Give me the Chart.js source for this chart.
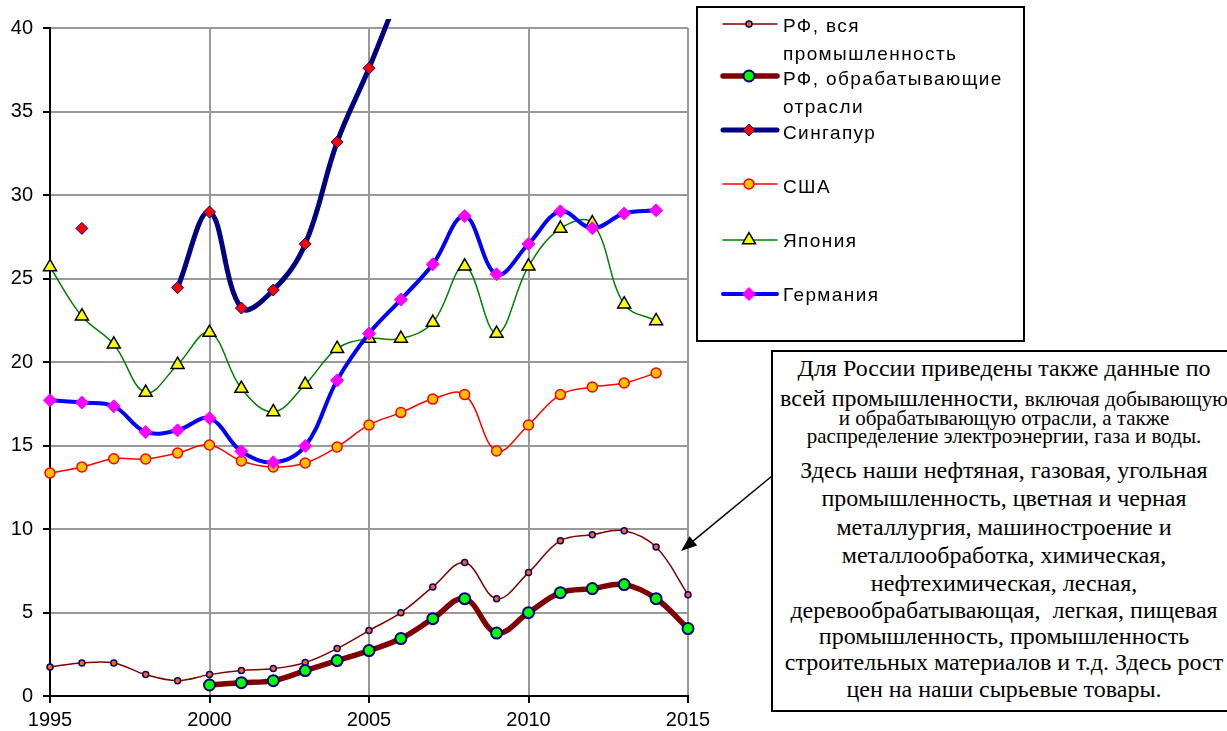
<!DOCTYPE html>
<html lang="ru">
<head>
    <meta charset="UTF-8">
    <title>Доля обрабатывающих отраслей</title>
    <script src="https://cdn.jsdelivr.net/npm/chart.js"></script>
    <style>
        body { margin: 0; background: #fff; }
        #wrap { position: relative; width: 1227px; height: 731px; overflow: hidden; }
        #chart { position: absolute; left: 0; top: 0; }

        .legend-box {
            position: absolute; left: 696px; top: 6px;
            width: 325px; height: 332px;
            border: 2px solid #000;
        }
        .lg {
            position: absolute; left: 783px;
            font: 19px "Liberation Sans", Arial, sans-serif;
            letter-spacing: 1.4px; line-height: 1;
            white-space: nowrap; color: #000;
        }

        .note {
            position: absolute; left: 771px; top: 350px;
            width: 470px; height: 358px;
            border: 2px solid #000; background: #fff;
        }
        .nl {
            position: absolute; left: 771px; width: 466px;
            text-align: center; white-space: nowrap; color: #000;
            font-family: "Liberation Serif", "Times New Roman", serif;
            font-size: 24px; line-height: 1;
        }
        .sm { font-size: 21px; }
    </style>
</head>
<body>
<div id="wrap">
    <canvas id="chart" width="1227" height="731"></canvas>

    <div class="legend-box"></div>
    <div class="lg" style="top:16px">РФ, вся</div>
    <div class="lg" style="top:44px">промышленность</div>
    <div class="lg" style="top:69px">РФ, обрабатывающие</div>
    <div class="lg" style="top:97px">отрасли</div>
    <div class="lg" style="top:123px">Сингапур</div>
    <div class="lg" style="top:177px">США</div>
    <div class="lg" style="top:231px">Япония</div>
    <div class="lg" style="top:285px">Германия</div>

    <div class="note"></div>
    <div class="nl" style="top:356px">Для России приведены также данные по</div>
    <div class="nl" style="top:386px">всей промышленности, <span class="sm">включая добывающую</span></div>
    <div class="nl sm" style="top:408px">и обрабатывающую отрасли, а также</div>
    <div class="nl sm" style="top:426px">распределение электроэнергии, газа и воды.</div>
    <div class="nl" style="top:458px">Здесь наши нефтяная, газовая, угольная</div>
    <div class="nl" style="top:486px">промышленность, цветная и черная</div>
    <div class="nl" style="top:515px">металлургия, машиностроение и</div>
    <div class="nl" style="top:543px">металлообработка, химическая,</div>
    <div class="nl" style="top:571px">нефтехимическая, лесная,</div>
    <div class="nl" style="top:598px">деревообрабатывающая,&nbsp; легкая, пищевая</div>
    <div class="nl" style="top:624px">промышленность, промышленность</div>
    <div class="nl" style="top:650px">строительных материалов и т.д. Здесь рост</div>
    <div class="nl" style="top:677px">цен на наши сырьевые товары.</div>
</div>

<script>
    const years = [1995, 1996, 1997, 1998, 1999, 2000, 2001, 2002, 2003, 2004,
                   2005, 2006, 2007, 2008, 2009, 2010, 2011, 2012, 2013, 2014, 2015];

    const rfAll = [1.74, 1.98, 1.98, 1.28, 0.92, 1.28, 1.52, 1.64, 2.00, 2.84,
                   3.92, 4.99, 6.53, 7.99, 5.83, 7.39, 9.30, 9.66, 9.90, 8.92, 6.07];
    const rfManuf = [null, null, null, null, null, 0.66, 0.80, 0.92, 1.52, 2.12,
                     2.72, 3.44, 4.63, 5.83, 3.77, 4.99, 6.19, 6.43, 6.67, 5.83, 4.04];
    const singapore = [null, 28.0, null, null, 24.45, 28.98, 23.23, 24.31, 27.07, 33.17,
                       37.59, 42.4, null, null, null, null, null, null, null, null, null];
    const usa = [13.35, 13.71, 14.21, 14.19, 14.55, 15.03, 14.07, 13.71, 13.95, 14.91,
                 16.23, 16.97, 17.78, 18.05, 14.67, 16.23, 18.05, 18.50, 18.74, 19.34, null];
    const japan = [25.69, 22.74, 21.06, 18.17, 19.84, 21.76, 18.41, 17.01, 18.65, 20.80,
                   21.40, 21.40, 22.36, 25.73, 21.70, 25.73, 27.99, 28.32, 23.46, 22.46, null];
    const germany = [17.71, 17.57, 17.35, 15.81, 15.91, 16.63, 14.65, 13.99, 14.97, 18.90,
                     21.70, 23.74, 25.85, 28.74, 25.25, 27.07, 29.02, 28.01, 28.89, 29.08, null];

    const xTicks = [1995, 2000, 2005, 2010, 2015];
    const yTicks = [0, 5, 10, 15, 20, 25, 30, 35, 40];

    const toXY = vals => years.map((x, i) => ({ x: x, y: vals[i] }));

    function series(label, vals, o) {
        return Object.assign({
            label: label,
            data: toXY(vals),
            tension: 0.38,
            spanGaps: false,
            clip: { left: 10, top: 9, right: 10, bottom: 10 }
        }, o);
    }

    const datasets = [
        series('РФ, вся промышленность', rfAll, {
            borderColor: '#800000', borderWidth: 1.5,
            pointStyle: 'circle', pointRadius: 3,
            pointBackgroundColor: '#FF6600', pointBorderColor: '#000080', pointBorderWidth: 1.5,
            order: 6
        }),
        series('РФ, обрабатывающие отрасли', rfManuf, {
            borderColor: '#800000', borderWidth: 5.5,
            pointStyle: 'circle', pointRadius: 5.5,
            pointBackgroundColor: '#00FF00', pointBorderColor: '#000080', pointBorderWidth: 2,
            order: 5
        }),
        series('Сингапур', singapore, {
            borderColor: '#000080', borderWidth: 5,
            pointStyle: 'rectRot', pointRadius: 6,
            pointBackgroundColor: '#FF0000', pointBorderColor: '#000080', pointBorderWidth: 1,
            order: 4
        }),
        series('США', usa, {
            borderColor: '#FF0000', borderWidth: 1.5,
            pointStyle: 'circle', pointRadius: 5,
            pointBackgroundColor: '#FFC000', pointBorderColor: '#FF0000', pointBorderWidth: 1.5,
            order: 3
        }),
        series('Япония', japan, {
            borderColor: '#008000', borderWidth: 1.5,
            pointStyle: 'triangle', pointRadius: 7.5,
            pointBackgroundColor: '#FFFF00', pointBorderColor: '#000000', pointBorderWidth: 1.5,
            order: 2
        }),
        series('Германия', germany, {
            borderColor: '#0000FF', borderWidth: 4,
            pointStyle: 'rectRot', pointRadius: 6.5,
            pointBackgroundColor: '#FF00FF', pointBorderColor: '#FF00FF', pointBorderWidth: 1,
            order: 1
        })
    ];

    // legend samples are drawn here, the legend text is html
    const legendRowsY = [24, 76, 130, 184, 240, 294];

    function marker(ctx, style, x, y, r, fill, stroke, lw) {
        ctx.save();
        ctx.beginPath();
        if (style === 'circle') {
            ctx.arc(x, y, r, 0, Math.PI * 2);
        } else if (style === 'rectRot') {
            ctx.moveTo(x - r, y); ctx.lineTo(x, y - r);
            ctx.lineTo(x + r, y); ctx.lineTo(x, y + r);
            ctx.closePath();
        } else if (style === 'triangle') {
            ctx.moveTo(x, y - r);
            ctx.lineTo(x + r * Math.sin(Math.PI / 3), y + r * 0.5);
            ctx.lineTo(x - r * Math.sin(Math.PI / 3), y + r * 0.5);
            ctx.closePath();
        }
        ctx.fillStyle = fill;
        ctx.fill();
        ctx.lineWidth = lw;
        ctx.strokeStyle = stroke;
        ctx.stroke();
        ctx.restore();
    }

    const extras = {
        id: 'extras',
        afterDraw(chart) {
            const ctx = chart.ctx;
            chart.data.datasets.forEach((ds, i) => {
                const y = legendRowsY[i];
                ctx.save();
                ctx.strokeStyle = ds.borderColor;
                ctx.lineWidth = ds.borderWidth;
                ctx.lineCap = 'round';
                ctx.beginPath();
                ctx.moveTo(723, y);
                ctx.lineTo(777, y);
                ctx.stroke();
                ctx.restore();
                marker(ctx, ds.pointStyle, 749, y, ds.pointRadius,
                       ds.pointBackgroundColor, ds.pointBorderColor, ds.pointBorderWidth);
            });

            // arrow from the note to the RF curve
            const x0 = 772, y0 = 476, x1 = 681, y1 = 551;
            const a = Math.atan2(y1 - y0, x1 - x0);
            ctx.save();
            ctx.strokeStyle = '#000';
            ctx.fillStyle = '#000';
            ctx.lineWidth = 1.5;
            ctx.beginPath();
            ctx.moveTo(x0, y0);
            ctx.lineTo(x1 - 10 * Math.cos(a), y1 - 10 * Math.sin(a));
            ctx.stroke();
            ctx.beginPath();
            ctx.moveTo(x1, y1);
            ctx.lineTo(x1 - 16 * Math.cos(a) + 6 * Math.sin(a), y1 - 16 * Math.sin(a) - 6 * Math.cos(a));
            ctx.lineTo(x1 - 16 * Math.cos(a) - 6 * Math.sin(a), y1 - 16 * Math.sin(a) + 6 * Math.cos(a));
            ctx.closePath();
            ctx.fill();
            ctx.restore();
        }
    };

    const tickFont = { family: '"Liberation Sans", Arial, sans-serif', size: 20 };

    new Chart(document.getElementById('chart').getContext('2d'), {
        type: 'line',
        data: { datasets: datasets },
        options: {
            responsive: false,
            animation: false,
            events: [],
            layout: { padding: { top: 28, right: 539, left: 0, bottom: 0 } },
            elements: { line: { capBezierPoints: false } },
            plugins: { legend: { display: false }, tooltip: { enabled: false } },
            scales: {
                x: {
                    type: 'linear',
                    min: 1995, max: 2015,
                    afterBuildTicks: s => { s.ticks = xTicks.map(v => ({ value: v })); },
                    afterFit: s => { s.height = 35; },
                    grid: { color: '#999', lineWidth: 2, tickLength: 7, tickColor: '#000', tickWidth: 2 },
                    border: { color: '#000', width: 2 },
                    ticks: { color: '#000', font: tickFont, padding: 5, maxRotation: 0,
                             callback: v => String(v) }
                },
                y: {
                    min: 0, max: 40,
                    afterBuildTicks: s => { s.ticks = yTicks.map(v => ({ value: v })); },
                    afterFit: s => { s.width = 50; },
                    grid: { color: '#999', lineWidth: 2, tickLength: 7, tickColor: '#000', tickWidth: 2 },
                    border: { color: '#000', width: 2 },
                    ticks: { color: '#000', font: tickFont, padding: 10 }
                }
            }
        },
        plugins: [extras]
    });
</script>
</body>
</html>
